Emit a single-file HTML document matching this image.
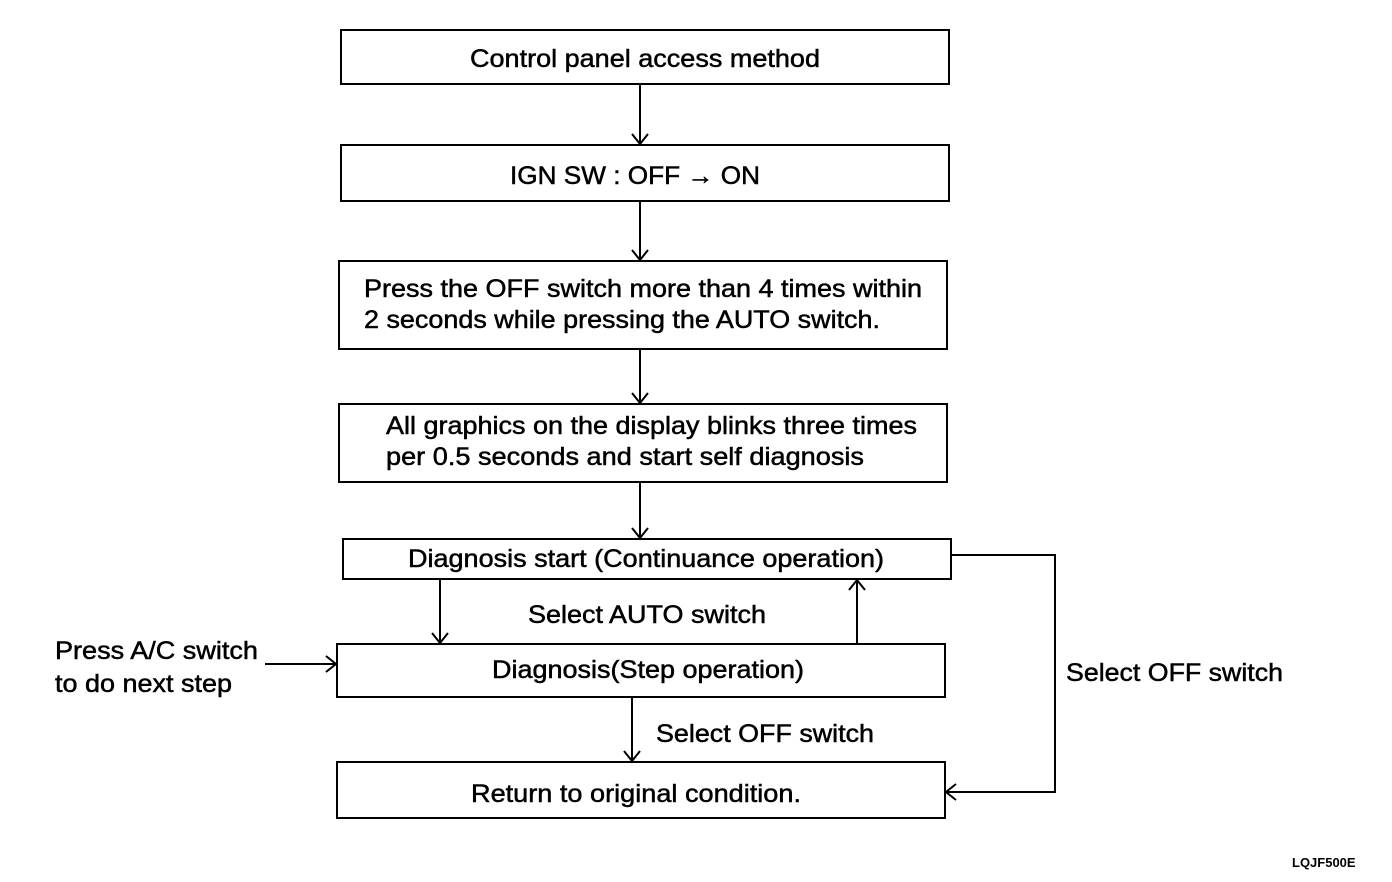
<!DOCTYPE html>
<html><head><meta charset="utf-8"><style>
html,body{margin:0;padding:0;background:#fff;}
svg{display:block;}
text{font-family:"Liberation Sans",Arial,sans-serif;font-size:25px;fill:#000;stroke:#000;stroke-width:0.5;}
</style></head><body>
<svg width="1392" height="882" viewBox="0 0 1392 882" xmlns="http://www.w3.org/2000/svg">
<g fill="none" stroke="#000" stroke-width="2">
<rect x="341" y="30" width="608" height="54"/>
<rect x="341" y="145" width="608" height="56"/>
<rect x="339" y="261" width="608" height="88"/>
<rect x="339" y="404" width="608" height="78"/>
<rect x="343" y="539" width="608" height="40"/>
<rect x="337" y="644" width="608" height="53"/>
<rect x="337" y="762" width="608" height="56"/>
<path d="M640 84V144M632 134L640 144L648 134"/>
<path d="M640 201V260M632 250L640 260L648 250"/>
<path d="M640 349V403M632 393L640 403L648 393"/>
<path d="M640 482V538M632 528L640 538L648 528"/>
<path d="M440 579V643M432 633L440 643L448 633"/>
<path d="M857 644V580M849 590L857 580L865 590"/>
<path d="M632 697V761M624 751L632 761L640 751"/>
<path d="M951 555H1055V792H946M956 784L946 792L956 800"/>
<path d="M265 664H336M326 656L336 664L326 672"/>
</g>
<g>
<text x="470" y="67" textLength="350" lengthAdjust="spacingAndGlyphs">Control panel access method</text>
<text x="510" y="184" textLength="250" lengthAdjust="spacingAndGlyphs">IGN SW : OFF → ON</text>
<text x="364" y="297" textLength="558" lengthAdjust="spacingAndGlyphs">Press the OFF switch more than 4 times within</text>
<text x="364" y="328" textLength="516" lengthAdjust="spacingAndGlyphs">2 seconds while pressing the AUTO switch.</text>
<text x="386" y="434" textLength="531" lengthAdjust="spacingAndGlyphs">All graphics on the display blinks three times</text>
<text x="386" y="465" textLength="478" lengthAdjust="spacingAndGlyphs">per 0.5 seconds and start self diagnosis</text>
<text x="408" y="567" textLength="476" lengthAdjust="spacingAndGlyphs">Diagnosis start (Continuance operation)</text>
<text x="528" y="623" textLength="238" lengthAdjust="spacingAndGlyphs">Select AUTO switch</text>
<text x="55" y="659" textLength="203" lengthAdjust="spacingAndGlyphs">Press A/C switch</text>
<text x="55" y="692" textLength="177" lengthAdjust="spacingAndGlyphs">to do next step</text>
<text x="492" y="678" textLength="312" lengthAdjust="spacingAndGlyphs">Diagnosis(Step operation)</text>
<text x="1066" y="681" textLength="217" lengthAdjust="spacingAndGlyphs">Select OFF switch</text>
<text x="656" y="742" textLength="218" lengthAdjust="spacingAndGlyphs">Select OFF switch</text>
<text x="471" y="802" textLength="330" lengthAdjust="spacingAndGlyphs">Return to original condition.</text>
<text x="1292" y="867" style="font-size:13px;font-weight:bold;stroke-width:0">LQJF500E</text>
</g>
</svg>
</body></html>
